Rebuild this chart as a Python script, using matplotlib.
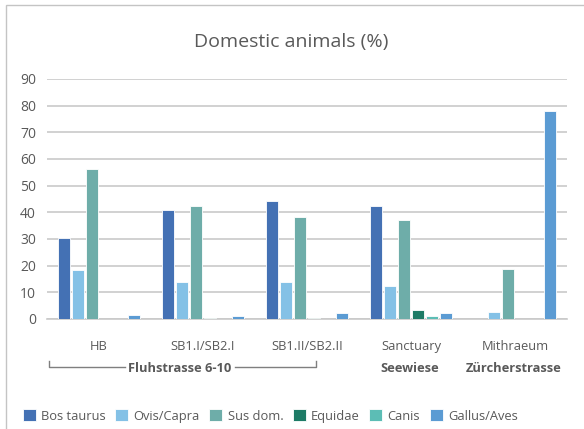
import numpy as np
import matplotlib
matplotlib.use("Agg")
import matplotlib.pyplot as plt
from matplotlib.patches import Rectangle

plt.rcParams['font.family'] = ['Open Sans', 'DejaVu Sans']

sites = ['HB', 'SB1.I/SB2.I', 'SB1.II/SB2.II', 'Sanctuary', 'Mithraeum']
species = ['Bos taurus', 'Ovis/Capra', 'Sus dom.', 'Equidae', 'Canis', 'Gallus/Aves']
colors = ['#4471B4', '#84C1E6', '#6EADA9', '#1D7B66', '#5CBDB5', '#5B9BD3']

bos = [30.5, 41.0, 44.2, 42.2, 0.0]
ovis = [18.4, 13.9, 14.0, 12.4, 2.5]
sus = [56.1, 42.3, 38.2, 37.2, 18.9]
equidae = [0.0, 0.5, 0.3, 3.5, 0.0]
canis = [0.0, 0.0, 0.0, 1.2, 0.0]
gallus = [1.6, 1.2, 2.3, 2.3, 78.0]
values = [bos, ovis, sus, equidae, canis, gallus]

txt = '#595959'

fig = plt.figure(figsize=(5.84, 4.29), dpi=100)
ax = fig.add_axes([47/584, 110/429, 520/584, 240/429])

x = np.arange(len(sites))
pitch = 14/104
width = 12/104
for i, (sp, vals) in enumerate(zip(species, values)):
    off = (i - 2.5) * pitch
    ax.bar(x + off, vals, width, color=colors[i], label=sp,
           edgecolor='white', linewidth=0.6, zorder=3)

ax.set_xlim(-0.5, 4.5)
ax.set_ylim(0, 90)
ax.set_yticks(range(0, 91, 10))
ax.yaxis.grid(True, color='#c9c9c9', linewidth=1.2, zorder=0)
for s in ['top', 'right', 'left']:
    ax.spines[s].set_visible(False)
ax.spines['bottom'].set_color('#c9c9c9')
ax.spines['bottom'].set_linewidth(1.2)
ax.tick_params(axis='y', length=0, pad=8, labelsize=10, labelcolor=txt)
ax.tick_params(axis='x', length=0, pad=15, labelsize=9.3, labelcolor=txt)
ax.set_xticks(x)
ax.set_xticklabels(sites)

fig.text(291/584, 1 - 42/429, 'Domestic animals (%)', ha='center', va='center',
         fontsize=14, color=txt)

# group labels under the categories
gy = 1 - 369/429
fig.text(180/584, gy, 'Fluhstrasse 6-10', ha='center', va='center',
         fontsize=9.3, fontweight='bold', color=txt)
fig.text(410/584, gy, 'Seewiese', ha='center', va='center',
         fontsize=9.3, fontweight='bold', color=txt)
fig.text(514/584, gy, 'Zürcherstrasse', ha='center', va='center',
         fontsize=9.3, fontweight='bold', color=txt)

# bracket around Fluhstrasse sites
by = 1 - 367/429
bt = 1 - 361/429
lc = '#7f7f7f'
fig.add_artist(plt.Line2D([49/584, 49/584, 125/584], [bt, by, by], color=lc, lw=1))
fig.add_artist(plt.Line2D([235/584, 316/584, 316/584], [by, by, bt], color=lc, lw=1))

# chart frame
fig.add_artist(Rectangle((6/584, -0.1), 1.2, 1 - 5/429 + 0.1, transform=fig.transFigure,
                         fill=False, edgecolor='#c4c4c4', lw=1))

fig.legend(loc='center left', bbox_to_anchor=(23/584, 1 - 416/429), ncol=6, frameon=False,
           fontsize=9.3, labelcolor=txt, handlelength=1.0, handleheight=1.0,
           handletextpad=0.4, columnspacing=0.75, borderpad=0, borderaxespad=0)

fig.savefig('out.png', dpi=100)
